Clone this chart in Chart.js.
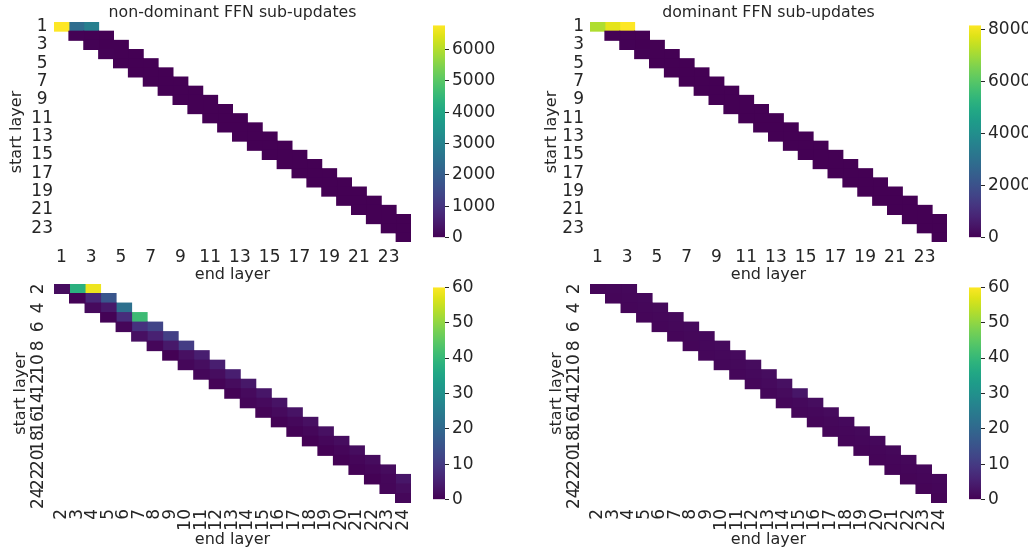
<!DOCTYPE html>
<html>
<head>
<meta charset="utf-8">
<script src="https://cdn.jsdelivr.net/npm/chart.js@4.4.0/dist/chart.umd.min.js"></script>
<style>
  html, body { margin: 0; padding: 0; background: #fff; }
  body { width: 1028px; height: 552px; position: relative; overflow: hidden; }
  canvas { position: absolute; }
</style>
</head>
<body>
<canvas id="heat-tl" width="420" height="284" style="left:0;top:0"></canvas>
<canvas id="bar-tl" width="72" height="239" style="left:433px;top:12px"></canvas>
<canvas id="heat-tr" width="420" height="284" style="left:536px;top:0"></canvas>
<canvas id="bar-tr" width="72" height="239" style="left:969px;top:12px"></canvas>
<canvas id="heat-bl" width="420" height="276" style="left:0;top:276px"></canvas>
<canvas id="bar-bl" width="72" height="239" style="left:433px;top:274px"></canvas>
<canvas id="heat-br" width="420" height="276" style="left:536px;top:276px"></canvas>
<canvas id="bar-br" width="72" height="239" style="left:969px;top:274px"></canvas>
<script>
// start layers (rows) and tick labels
const topStartLayers = ['1','2','3','4','5','6','7','8','9','10','11','12','13','14','15','16','17','18','19','20','21','22','23','24'];
const bottomStartLayers = ['2','3','4','5','6','7','8','9','10','11','12','13','14','15','16','17','18','19','20','21','22','23','24'];
const topTickLabels = ['1','3','5','7','9','11','13','15','17','19','21','23'];
const topEndTicks = [1, 3, 5, 7, 9, 11, 13, 15, 17, 19, 21, 23];
const bottomEndTicks = [2, 3, 4, 5, 6, 7, 8, 9, 10, 11, 12, 13, 14, 15, 16, 17, 18, 19, 20, 21, 22, 23, 24];
const bottomStartTicks = ['2','4','6','8','10','12','14','16','18','20','22','24'];

// each row: values for end layer = start, start+1, start+2
const nonDominantAll = [
    [6770, 2400, 2900], [12, 8, 6], [10, 8, 6], [10, 7, 5], [9, 7, 5], [9, 6, 5],
    [8, 6, 4], [8, 6, 4], [7, 5, 4], [7, 5, 4], [7, 5, 3], [6, 4, 3],
    [6, 4, 3], [6, 4, 3], [5, 4, 3], [5, 3, 2], [5, 3, 2], [4, 3, 2],
    [4, 3, 2], [4, 3, 2], [4, 2, 2], [3, 2, 2], [3, 2], [3]
];
const dominantAll = [
    [7170, 7820, 8150], [14, 10, 8], [12, 9, 7], [12, 9, 7], [11, 8, 6], [11, 8, 6],
    [10, 7, 6], [10, 7, 5], [9, 7, 5], [9, 6, 5], [8, 6, 5], [8, 6, 4],
    [8, 6, 4], [7, 5, 4], [7, 5, 4], [7, 5, 4], [6, 5, 3], [6, 4, 3],
    [6, 4, 3], [5, 4, 3], [5, 4, 3], [5, 3, 3], [4, 3], [4]
];
const nonDominantLate = [
    [2, 38, 58.5], [0.3, 6.5, 16], [1.5, 4, 22], [0.3, 7.5, 41], [0.8, 8.5, 12],
    [2.5, 5.5, 11], [1, 4, 10.5], [0.2, 2.5, 5], [1, 2.2, 5], [1, 2, 5],
    [0.5, 1.8, 3.8], [0.3, 1.5, 3.5], [0.8, 1.5, 3], [0.6, 1.5, 3], [0.3, 1.2, 2.5],
    [0.3, 1, 2.5], [0.2, 1, 2], [0.2, 0.8, 2], [0.2, 0.8, 1.8], [0.3, 0.8, 1.8],
    [0.2, 1, 3.5], [0.8, 2], [1]
];
const dominantLate = [
    [0.8, 1, 1.2], [0.8, 1, 1.2], [0.8, 1, 1.3], [0.8, 1, 1.3], [0.9, 1.1, 1.4],
    [0.9, 1.1, 1.4], [0.9, 1.2, 1.5], [1, 1.2, 1.5], [1, 1.3, 1.8], [1, 1.4, 2],
    [1, 1.5, 2.5], [1, 1.6, 3.5], [1, 1.4, 2], [1, 1.2, 1.6], [0.9, 1.1, 1.4],
    [0.8, 1, 1.3], [0.8, 1, 1.2], [0.7, 0.9, 1.1], [0.7, 0.9, 1.1], [0.7, 0.8, 1],
    [0.6, 0.8, 1], [0.6, 0.8], [0.6]
];

const colorbarTicksTL = [0, 1000, 2000, 3000, 4000, 5000, 6000];
const colorbarTicksTR = [0, 2000, 4000, 6000, 8000];
const colorbarTicksBottom = [0, 10, 20, 30, 40, 50, 60];

// viridis colormap stops (every 0.05)
const viridisStops = ['#440154','#471365','#482475','#463480','#414487','#3b528b','#355f8d','#2f6c8e',
    '#2a788e','#25848e','#21918c','#1e9c89','#22a884','#2fb47c','#44bf70','#5ec962',
    '#7ad151','#9bd93c','#bddf26','#dfe318','#fde725'];

const ink = '#262626';
const tickFont = { family: 'DejaVu Sans', size: 17 };
const labelFont = { family: 'DejaVu Sans', size: 16 };

function hexToRgb(h) {
    return [parseInt(h.slice(1, 3), 16), parseInt(h.slice(3, 5), 16), parseInt(h.slice(5, 7), 16)];
}

function viridis(t) {
    t = Math.max(0, Math.min(1, t));
    const pos = t * (viridisStops.length - 1);
    const i = Math.min(Math.floor(pos), viridisStops.length - 2);
    const f = pos - i;
    const a = hexToRgb(viridisStops[i]);
    const b = hexToRgb(viridisStops[i + 1]);
    const c = a.map((v, k) => Math.round(v + (b[k] - v) * f));
    return `rgb(${c[0]}, ${c[1]}, ${c[2]})`;
}

// title and rotated y tick labels drawn with the scales' own pixel positions
const extraText = {
    id: 'extraText',
    afterDraw(chart, args, o) {
        const ctx = chart.ctx;
        const area = chart.chartArea;
        ctx.save();
        ctx.fillStyle = ink;
        if (o.title) {
            ctx.font = '15.75px "DejaVu Sans"';
            ctx.textAlign = 'center';
            ctx.textBaseline = 'alphabetic';
            ctx.fillText(o.title, (area.left + area.right) / 2, o.titleY);
        }
        if (o.rotatedTicks) {
            ctx.font = '17px "DejaVu Sans"';
            const y = chart.scales.y;
            const labels = y.getLabels();
            o.rotatedTicks.forEach(lbl => {
                const py = y.getPixelForValue(labels.indexOf(lbl));
                ctx.save();
                ctx.translate(o.rotatedX, py);
                ctx.rotate(-Math.PI / 2);
                ctx.textAlign = 'center';
                ctx.textBaseline = 'middle';
                ctx.fillText(lbl, 0, 0);
                ctx.restore();
            });
        }
        ctx.restore();
    }
};

function heatmap(id, cfg) {
    const first = Number(cfg.rows[0]);
    const datasets = [0, 1, 2].map(k => ({
        data: cfg.values.map((row, i) => row[k] === undefined ? null : [first + i + k - 0.5, first + i + k + 0.5]),
        backgroundColor: cfg.values.map(row => row[k] === undefined ? 'rgba(0,0,0,0)' : viridis(row[k] / cfg.vmax)),
        borderWidth: 0,
        grouped: false,
        barPercentage: 1,
        categoryPercentage: 1,
        inflateAmount: 0.5
    }));

    new Chart(document.getElementById(id), {
        type: 'bar',
        data: { labels: cfg.rows, datasets: datasets },
        plugins: [extraText],
        options: {
            indexAxis: 'y',
            responsive: false,
            animation: false,
            layout: { padding: { top: cfg.padTop, right: 9, left: 0, bottom: 0 } },
            plugins: {
                legend: { display: false },
                tooltip: { enabled: false },
                extraText: { title: cfg.title, titleY: 17, rotatedTicks: cfg.rotatedTicks, rotatedX: 39 }
            },
            scales: {
                x: {
                    type: 'linear',
                    min: cfg.xMin,
                    max: cfg.xMax,
                    afterBuildTicks: s => { s.ticks = cfg.xTicks.map(v => ({ value: v })); },
                    afterFit: s => { s.height = cfg.xHeight; s.paddingLeft = 0; s.paddingRight = 0; },
                    grid: { display: false, drawTicks: false },
                    border: { display: false },
                    ticks: {
                        autoSkip: false,
                        minRotation: cfg.xRotation,
                        maxRotation: cfg.xRotation,
                        padding: cfg.xTickPad,
                        color: ink,
                        font: tickFont,
                        callback: v => String(v)
                    },
                    title: {
                        display: true,
                        text: 'end layer',
                        color: ink,
                        font: labelFont,
                        padding: { top: 0, bottom: cfg.xTitlePad }
                    }
                },
                y: {
                    type: 'category',
                    afterFit: s => { s.width = 54; s.paddingTop = 0; s.paddingBottom = 0; },
                    grid: { display: false, drawTicks: false },
                    border: { display: false },
                    ticks: {
                        display: !cfg.rotatedTicks,
                        autoSkip: false,
                        crossAlign: cfg.yAlign,
                        padding: cfg.yTickPad,
                        color: ink,
                        font: tickFont,
                        callback: (v, idx) => cfg.yTicks.includes(cfg.rows[idx]) ? cfg.rows[idx] : null
                    },
                    title: {
                        display: true,
                        text: 'start layer',
                        color: ink,
                        font: labelFont,
                        padding: { top: cfg.yTitlePad, bottom: 0 }
                    }
                }
            }
        }
    });
}

function colorbar(id, vmax, ticks) {
    new Chart(document.getElementById(id), {
        type: 'bar',
        data: {
            labels: [''],
            datasets: [{
                data: [[0, vmax]],
                backgroundColor: c => {
                    const area = c.chart.chartArea;
                    if (!area) return viridis(1);
                    const g = c.chart.ctx.createLinearGradient(0, area.bottom, 0, area.top);
                    viridisStops.forEach((col, i) => g.addColorStop(i / (viridisStops.length - 1), col));
                    return g;
                },
                borderWidth: 0,
                barPercentage: 1,
                categoryPercentage: 1,
                inflateAmount: 0
            }]
        },
        options: {
            responsive: false,
            animation: false,
            layout: { padding: { top: 10, bottom: 10, left: 0, right: 0 } },
            plugins: { legend: { display: false }, tooltip: { enabled: false } },
            scales: {
                x: { display: false },
                y: {
                    position: 'right',
                    min: 0,
                    max: vmax,
                    afterBuildTicks: s => { s.ticks = ticks.map(v => ({ value: v })); },
                    afterFit: s => { s.width = 60; },
                    grid: { display: true, drawOnChartArea: false, drawTicks: true, tickLength: 4, color: ink, lineWidth: 1 },
                    border: { display: false },
                    ticks: { autoSkip: false, padding: 3, color: ink, font: tickFont, callback: v => String(v) }
                }
            }
        }
    });
}

heatmap('heat-tl', {
    rows: topStartLayers, values: nonDominantAll, vmax: 6770, title: 'non-dominant FFN sub-updates',
    padTop: 22, xMin: 0.5, xMax: 24.5, xTicks: topEndTicks, xRotation: 0, xHeight: 42, xTickPad: 5, xTitlePad: 0,
    yTicks: topTickLabels, yAlign: 'center', yTickPad: 1, yTitlePad: 7
});
heatmap('heat-tr', {
    rows: topStartLayers, values: dominantAll, vmax: 8150, title: 'dominant FFN sub-updates',
    padTop: 22, xMin: 0.5, xMax: 24.5, xTicks: topEndTicks, xRotation: 0, xHeight: 42, xTickPad: 5, xTitlePad: 0,
    yTicks: topTickLabels, yAlign: 'near', yTickPad: 6, yTitlePad: 6
});
heatmap('heat-bl', {
    rows: bottomStartLayers, values: nonDominantLate, vmax: 60, title: null,
    padTop: 8, xMin: 1.5, xMax: 24.5, xTicks: bottomEndTicks, xRotation: 90, xHeight: 49, xTickPad: 6, xTitlePad: 3,
    yTicks: bottomStartTicks, rotatedTicks: bottomStartTicks, yAlign: 'near', yTickPad: 6, yTitlePad: 11
});
heatmap('heat-br', {
    rows: bottomStartLayers, values: dominantLate, vmax: 60, title: null,
    padTop: 8, xMin: 1.5, xMax: 24.5, xTicks: bottomEndTicks, xRotation: 90, xHeight: 49, xTickPad: 6, xTitlePad: 3,
    yTicks: bottomStartTicks, rotatedTicks: bottomStartTicks, yAlign: 'near', yTickPad: 6, yTitlePad: 11
});

colorbar('bar-tl', 6770, colorbarTicksTL);
colorbar('bar-tr', 8150, colorbarTicksTR);
colorbar('bar-bl', 60, colorbarTicksBottom);
colorbar('bar-br', 60, colorbarTicksBottom);
</script>
</body>
</html>
